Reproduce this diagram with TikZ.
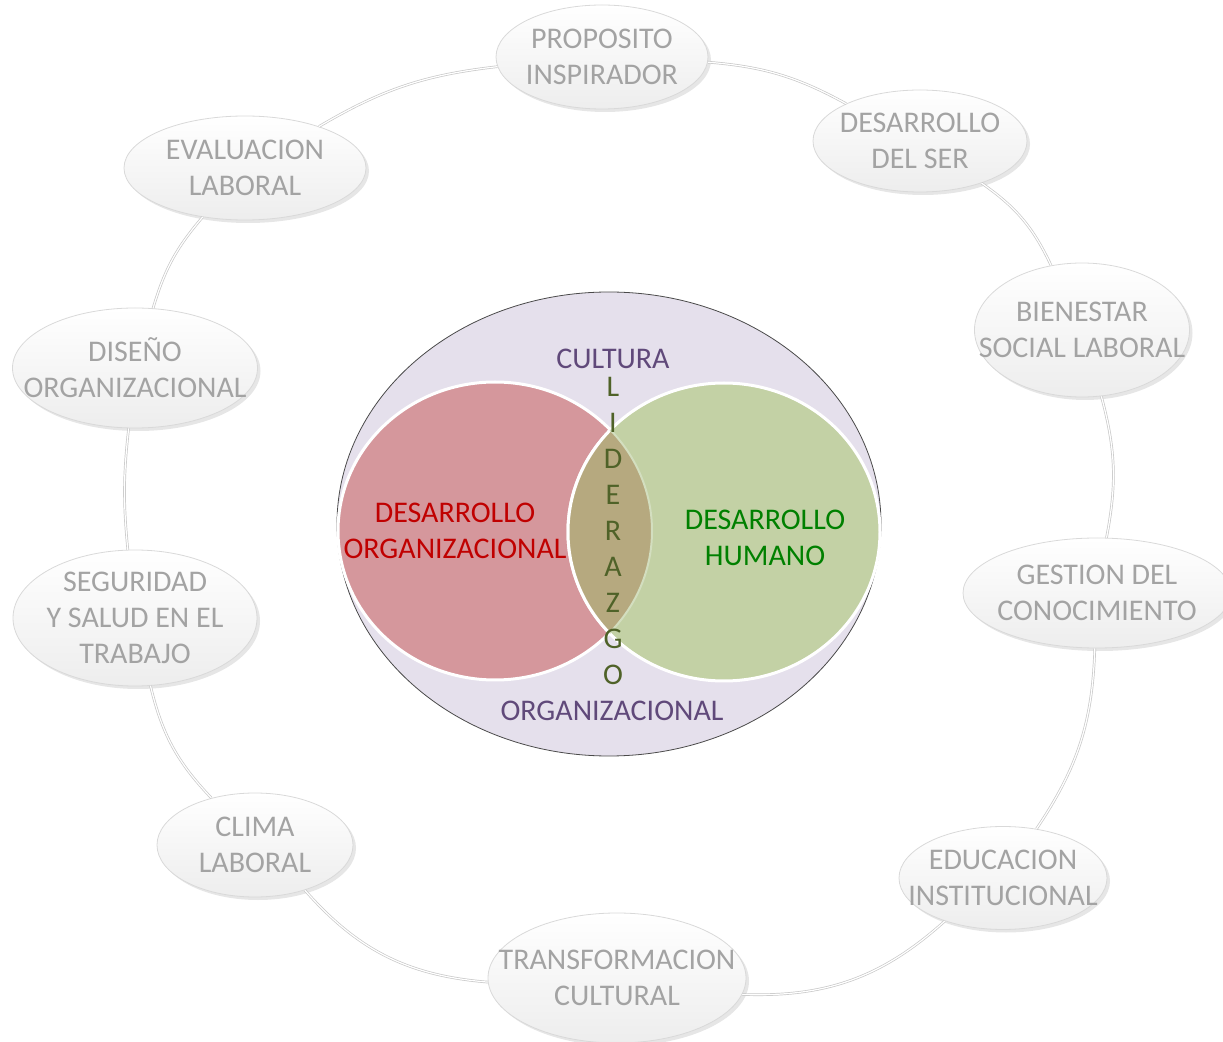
\documentclass[tikz,border=0pt]{standalone}
\usepackage{fontspec}
\setmainfont{Carlito}
\usepackage{tikz}
\usetikzlibrary{shapes.geometric,shadows}

\definecolor{txtgray}{HTML}{A3A3A3}
\definecolor{ringline}{HTML}{C8C8C8}
\definecolor{cultfill}{HTML}{E5E0EC}
\definecolor{cultline}{HTML}{4A4A4A}
\definecolor{orgfill}{HTML}{D5979C}
\definecolor{humfill}{HTML}{C3D1A5}
\definecolor{lensfill}{HTML}{B6A97F}
\definecolor{lenslight}{HTML}{D3DEBF}
\definecolor{cultxt}{HTML}{60497A}
\definecolor{orgtxt}{HTML}{C00000}
\definecolor{humtxt}{HTML}{008000}
\definecolor{lidtxt}{HTML}{4F6228}

\begin{document}
\begin{tikzpicture}[x=0.5pt,y=0.5pt,font=\fontsize{15pt}{18pt}\selectfont]
  \tikzstyle{ring}=[ellipse,draw=gray!30,thin,top color=white,bottom color=gray!14,
    drop shadow={shadow xshift=1.5pt,shadow yshift=-1.5pt,opacity=0.2}]
  \tikzstyle{ringtxt}=[align=center,text=txtgray,inner sep=0pt]
  \tikzstyle{every edge}=[draw=ringline,double=white,double distance=0.6pt,line width=0.35pt]

  \useasboundingbox (0,0) rectangle (1223,1041);

  % cultura organizacional
  \draw[cultline,thin,fill=cultfill] (609,517) ellipse [x radius=272,y radius=232];
  \draw[white,line width=1.5pt,fill=orgfill] (495,510) ellipse [x radius=157,y radius=149];
  \draw[white,line width=1.5pt,fill=humfill] (724,509) ellipse [x radius=156,y radius=149];
  \begin{scope}
    \clip (495,510) ellipse [x radius=157,y radius=149];
    \fill[lensfill] (724,509) ellipse [x radius=156,y radius=149];
    \draw[white,line width=1.5pt] (724,509) ellipse [x radius=156,y radius=149];
  \end{scope}
  \begin{scope}
    \clip (724,509) ellipse [x radius=156,y radius=149];
    \draw[lenslight,line width=1pt] (495,510) ellipse [x radius=157,y radius=149];
  \end{scope}

  \node[text=cultxt] (cult) at (613,682) {CULTURA};
  \node[text=cultxt] (orgz) at (612,330) {ORGANIZACIONAL};
  \node[text=lidtxt,align=center] (lid) at (613,510) {L\\I\\D\\E\\R\\A\\Z\\G\\O};
  \node[text=orgtxt,align=center] (dorg) at (455,510) {DESARROLLO\\ORGANIZACIONAL};
  \node[text=humtxt,align=center] (dhum) at (765,503) {DESARROLLO\\HUMANO};

  % anillo
  \node[ring,minimum width=106pt,minimum height=52pt,
    label={[ringtxt]center:PROPOSITO\\INSPIRADOR}] (prop) at (602,984) {};
  \node[ring,minimum width=107pt,minimum height=51pt,
    label={[ringtxt]center:DESARROLLO\\DEL SER}] (ser) at (920,900) {};
  \node[ring,minimum width=107.5pt,minimum height=67pt,
    label={[ringtxt]center:BIENESTAR\\SOCIAL LABORAL}] (bien) at (1082,711) {};
  \node[ring,minimum width=134pt,minimum height=55pt,
    label={[ringtxt]center:GESTION DEL\\CONOCIMIENTO}] (gest) at (1097,448) {};
  \node[ring,minimum width=104pt,minimum height=51.5pt,
    label={[ringtxt]center:EDUCACION\\INSTITUCIONAL}] (educ) at (1003,163) {};
  \node[ring,minimum width=129pt,minimum height=65pt,
    label={[ringtxt]center:TRANSFORMACION\\CULTURAL}] (trans) at (617,63) {};
  \node[ring,minimum width=98pt,minimum height=52pt,
    label={[ringtxt]center:CLIMA\\LABORAL}] (clima) at (255,196) {};
  \node[ring,minimum width=122pt,minimum height=68pt,
    label={[ringtxt]center:SEGURIDAD\\Y SALUD EN EL\\TRABAJO}] (segu) at (135,423) {};
  \node[ring,minimum width=122.5pt,minimum height=60pt,
    label={[ringtxt]center:DISEÑO\\ORGANIZACIONAL}] (dise) at (135,673) {};
  \node[ring,minimum width=121pt,minimum height=52pt,
    label={[ringtxt]center:EVALUACION\\LABORAL}] (eval) at (245,873) {};

  \path (prop)  edge [bend left=12] (ser)
        (ser)   edge [bend left=15] (bien)
        (bien)  edge [bend left=13] (gest)
        (gest)  edge [bend left=16] (educ)
        (educ)  edge [bend left=22] (trans)
        (trans) edge [bend left=22] (clima)
        (clima) edge [bend left=15] (segu)
        (segu)  edge [bend left=6]  (dise)
        (dise)  edge [bend left=12] (eval)
        (eval)  edge [bend left=12] (prop);
\end{tikzpicture}
\end{document}
